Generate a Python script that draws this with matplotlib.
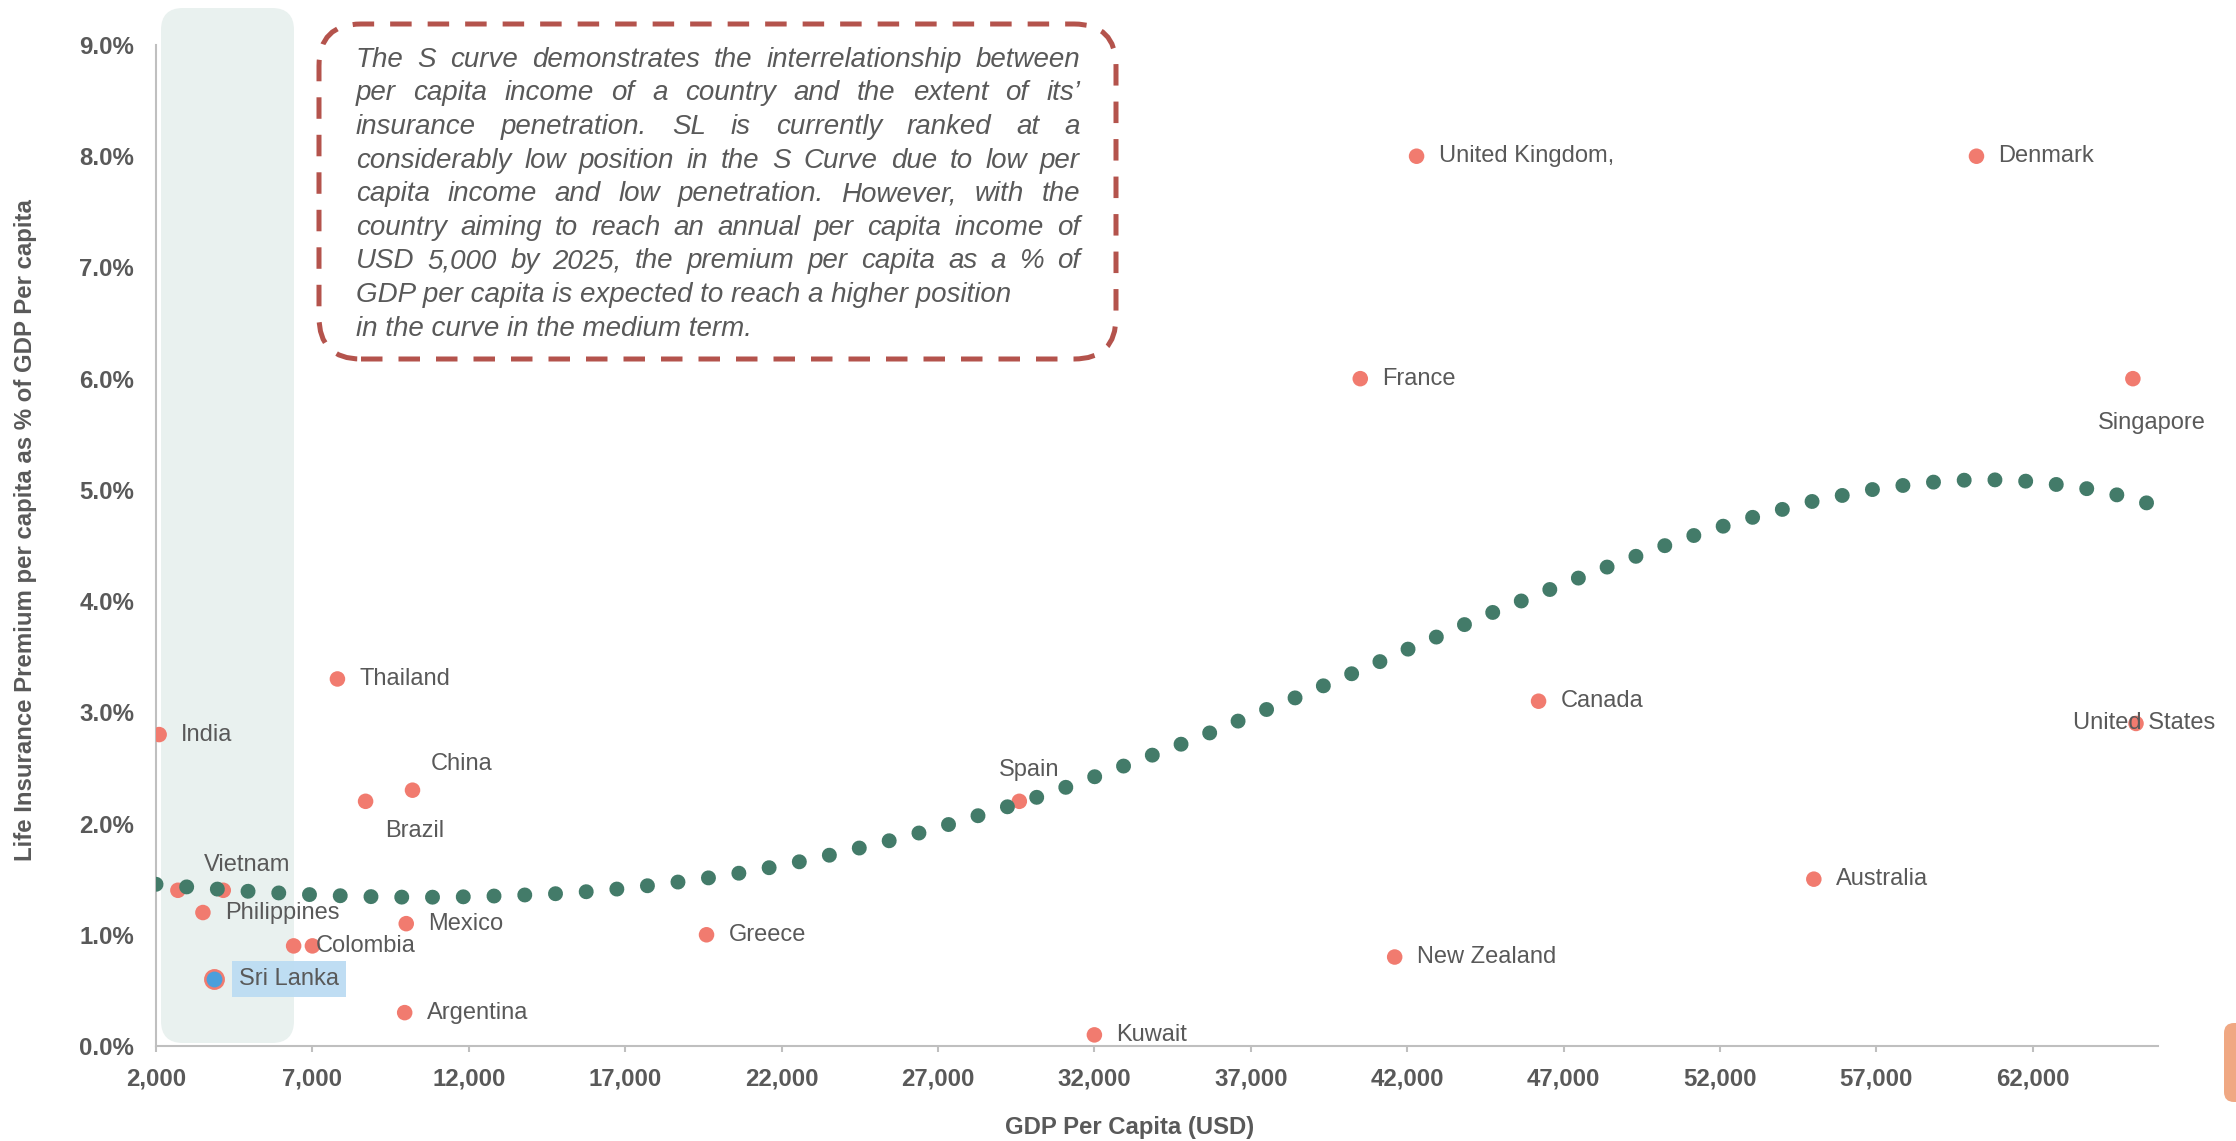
import numpy as np
import matplotlib
matplotlib.use("Agg")
import matplotlib.pyplot as plt
from matplotlib.patches import FancyBboxPatch
from matplotlib.ticker import FuncFormatter

plt.rcParams['font.family'] = ['Liberation Sans', 'DejaVu Sans']

# country points: GDP per capita (USD) and life premium as % of GDP per capita
countries = ['India', 'Vietnam', '', 'Philippines', 'Sri Lanka', 'Colombia', '',
             'Thailand', 'Brazil', 'China', 'Mexico', 'Argentina', 'Greece', 'Spain',
             'Kuwait', 'France', 'New Zealand', 'United Kingdom,', 'Canada',
             'Australia', 'Denmark', 'Singapore', 'United States']
gdp = [2100, 2700, 4150, 3500, 3850, 6400, 7000,
       7800, 8700, 10200, 10000, 9950, 19600, 29600,
       32000, 40500, 41600, 42300, 46200,
       55000, 60200, 65200, 65300]
penetration = [2.8, 1.4, 1.4, 1.2, 0.6, 0.9, 0.9,
               3.3, 2.2, 2.3, 1.1, 0.3, 1.0, 2.2,
               0.1, 6.0, 0.8, 8.0, 3.1,
               1.5, 8.0, 6.0, 2.9]

# S curve (dotted trendline)
curve_x = [2000, 3000, 4000, 5000, 6000, 7000, 8000, 9000, 10000, 11000,
           12000, 13000, 14000, 15000, 16000, 17000, 18000, 19000, 20000, 21000,
           22000, 23000, 24000, 25000, 26000, 27000, 28000, 29000, 30000, 31000,
           32000, 33000, 34000, 35000, 36000, 37000, 38000, 39000, 40000, 41000,
           42000, 43000, 44000, 45000, 46000, 47000, 48000, 49000, 50000, 51000,
           52000, 53000, 54000, 55000, 56000, 57000, 58000, 59000, 60000, 61000,
           62000, 63000, 64000, 65000, 65800]
curve_y = [1.454, 1.43, 1.41, 1.39, 1.375, 1.36, 1.35, 1.342, 1.338, 1.338,
           1.342, 1.35, 1.36, 1.372, 1.392, 1.418, 1.45, 1.485, 1.525, 1.57,
           1.625, 1.68, 1.747, 1.815, 1.884, 1.963, 2.047, 2.131, 2.221, 2.317,
           2.42, 2.524, 2.631, 2.738, 2.85, 2.97, 3.08, 3.20, 3.32, 3.44,
           3.565, 3.685, 3.81, 3.93, 4.04, 4.155, 4.265, 4.37, 4.475, 4.575,
           4.665, 4.75, 4.825, 4.90, 4.955, 5.01, 5.045, 5.075, 5.09, 5.09,
           5.075, 5.04, 5.00, 4.935, 4.87]

x_ticks = list(range(2000, 62001, 5000))
y_ticks = list(range(0, 10))

note_lines = [
    "The S curve demonstrates the interrelationship between",
    "per capita income of a country and the extent of its\u2019",
    "insurance penetration. SL is currently ranked at a",
    "considerably low position in the S Curve due to low per",
    "capita income and low penetration. However, with the",
    "country aiming to reach an annual per capita income of",
    "USD 5,000 by 2025, the premium per capita as a % of",
    "GDP per capita is expected to reach a higher position",
    "in the curve in the medium term.",
]

red = '#f17b6f'
green = '#437b69'
grey = '#595959'

fig = plt.figure(figsize=(22.36, 11.41), dpi=100)
ax = fig.add_axes([0.06977, 0.08326, 0.8953, 0.8773])
ax.set_xlim(2000, 66000)
ax.set_ylim(0, 9)

# highlighted band behind the low income countries (inches, figure space)
band = FancyBboxPatch((1.61, 0.98), 1.33, 10.35, boxstyle='round,pad=0,rounding_size=0.22',
                      transform=fig.dpi_scale_trans, facecolor='#e9f1ef', edgecolor='none',
                      clip_on=False, zorder=0)
ax.add_patch(band)

sl = countries.index('Sri Lanka')
others = [i for i in range(len(countries)) if i != sl]
ax.scatter([gdp[i] for i in others], [penetration[i] for i in others], s=125,
           color=red, edgecolors='none', zorder=2)
ax.plot(curve_x, curve_y, color=green, lw=10.8, linestyle=(0, (0.001, 2.05)),
        dash_capstyle='round', zorder=3)
ax.scatter([gdp[sl]], [penetration[sl]], s=175, color='#4a9fdc', edgecolors=red,
           linewidths=1.8, zorder=4)

# label offsets in pixels (dx right, dy down), alignment
offsets = {
    'Vietnam': (26, -25, 'left'),
    'China': (18, -26, 'left'),
    'Brazil': (20, 30, 'left'),
    'Spain': (10, -31, 'center'),
    'United States': (8, 0, 'center'),
    'Singapore': (19, 44, 'center'),
    'Sri Lanka': (25, 0, 'left'),
}
for name, x, y in zip(countries, gdp, penetration):
    if not name:
        continue
    dx, dy, ha = offsets.get(name, (22, 0, 'left'))
    kw = {}
    if name == 'Sri Lanka':
        kw['bbox'] = dict(boxstyle='square,pad=0.3', facecolor='#bcdcf3',
                          edgecolor='none', alpha=0.95)
    ax.annotate(name, (x, y), xytext=(dx * 0.72, -dy * 0.72), textcoords='offset points',
                ha=ha, va='center', fontsize=17, color=grey, zorder=5, **kw)

ax.set_xticks(x_ticks)
ax.set_yticks(y_ticks)
ax.xaxis.set_major_formatter(FuncFormatter(lambda v, p: f'{v:,.0f}'))
ax.yaxis.set_major_formatter(FuncFormatter(lambda v, p: f'{v:.1f}%'))
ax.tick_params(axis='y', length=0, pad=15.8, labelsize=17.3, labelcolor=grey)
ax.tick_params(axis='x', length=4.3, width=1.5, color='#bfbfbf', pad=11.5,
               labelsize=17.3, labelcolor=grey)
for lab in ax.get_xticklabels() + ax.get_yticklabels():
    lab.set_fontweight('bold')
for side in ['top', 'right']:
    ax.spines[side].set_visible(False)
for side in ['left', 'bottom']:
    ax.spines[side].set_color('#bfbfbf')
    ax.spines[side].set_linewidth(1.5)
    ax.spines[side].set_zorder(1)

ax.set_xlabel('GDP Per Capita (USD)', fontsize=17.2, fontweight='bold', color=grey)
ax.xaxis.set_label_coords(0.4863, -0.0819)
ax.xaxis.label.set_va('center')
ax.set_ylabel('Life Insurance Premium per capita as % of GDP Per capita', fontsize=17.3,
              fontweight='bold', color=grey)
ax.yaxis.set_label_coords(-0.0654, 0.5155)
ax.yaxis.label.set_va('center')

# dashed call-out box
H = 11.41
box = FancyBboxPatch((3.19, H - 3.59), 7.97, 3.35, boxstyle='round,pad=0,rounding_size=0.42',
                     transform=fig.dpi_scale_trans, facecolor='none', edgecolor='#b4534c',
                     linewidth=3.6, linestyle=(0, (4.3, 3.2)))
fig.patches.append(box)

renderer = fig.canvas.get_renderer()
txt_kw = dict(fontsize=20, style='italic', color=grey, va='baseline',
              transform=fig.dpi_scale_trans)
left_px, right_px = 356, 1080
for k, line in enumerate(note_lines):
    base = H - (66.7 + 33.6 * k) / 100
    if k >= 7:
        fig.text(left_px / 100, base, line, ha='left', **txt_kw)
        continue
    words = line.split(' ')
    widths = []
    for w in words:
        t = fig.text(0, 0, w, **txt_kw)
        widths.append(t.get_window_extent(renderer).width)
        t.remove()
    gap = (right_px - left_px - sum(widths)) / (len(words) - 1)
    xpos = left_px
    for w, wd in zip(words, widths):
        fig.text(xpos / 100, base, w, ha='left', **txt_kw)
        xpos += wd + gap

# orange tab cut off at the right edge of the slide
tab = FancyBboxPatch((22.24, 0.39), 0.4, 0.79, boxstyle='round,pad=0,rounding_size=0.1',
                     transform=fig.dpi_scale_trans, facecolor='#f0a883', edgecolor='none')
fig.patches.append(tab)

fig.savefig('out.png', dpi=100)
